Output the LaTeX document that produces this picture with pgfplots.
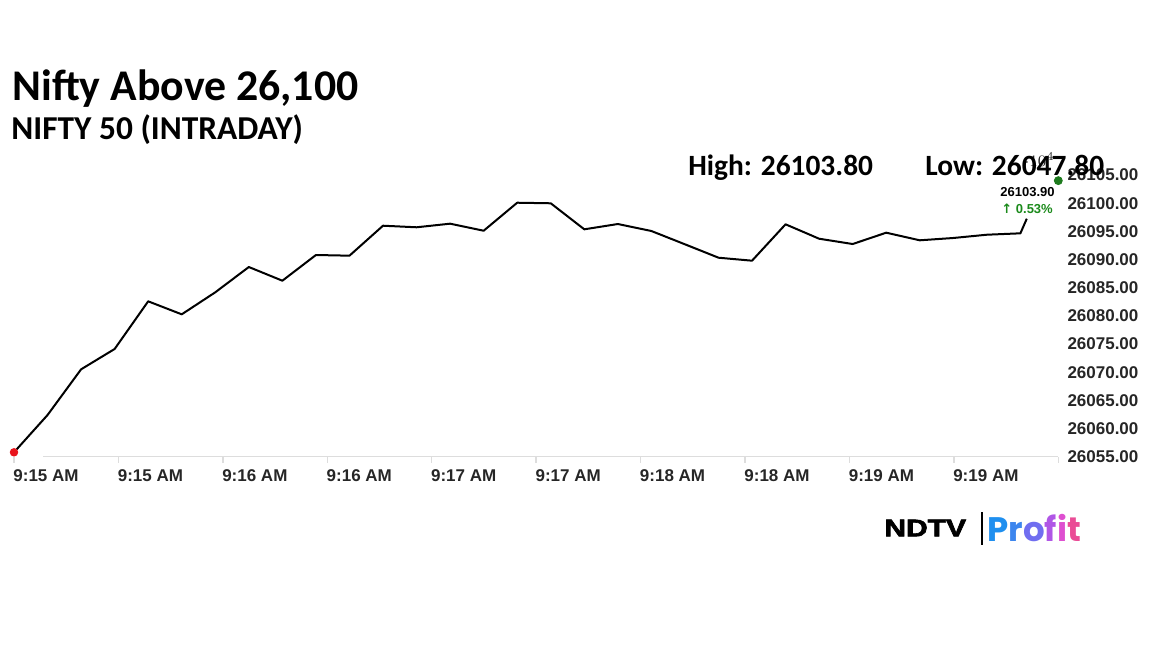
\documentclass[border=0pt]{standalone}
\usepackage{pgfplots}
\pgfplotsset{compat=1.18}
\usepackage{fontspec}
\usepackage{graphicx}
\setmainfont{Carlito}
\newfontfamily\arial{Liberation Sans}
\newfontfamily\ndtvfont[BoldFeatures={FakeBold=2.5}]{Liberation Sans}
\newfontfamily\dejavu{DejaVu Sans}
\newfontfamily\poppins{Poppins}
\definecolor{reddot}{HTML}{E8141C}
\definecolor{greendot}{HTML}{1E7B1E}
\definecolor{uptext}{HTML}{1B8A1B}
\definecolor{axisgray}{HTML}{DDDDDD}
\definecolor{pA}{HTML}{1F8FEF}
\definecolor{pB}{HTML}{3D86EE}
\definecolor{pC}{HTML}{706EF0}
\definecolor{pD}{HTML}{B056E6}
\definecolor{pE}{HTML}{DE4FD0}
\definecolor{pF}{HTML}{EA4C96}
\begin{document}
\begin{tikzpicture}
\path[use as bounding box] (0,0) rectangle (576pt,-324pt);
\begin{axis}[
  at={(7pt,-228.35pt)}, anchor=south west,
  scale only axis, width=522.15pt, height=140.85pt,
  xmin=0, xmax=31.13, ymin=26055, ymax=26105,
  clip=false,
  axis x line*=bottom, axis y line*=right,
  x axis line style={draw=none}, y axis line style={draw=none},
  tick align=outside, major tick length=3pt,
  xtick style={draw=axisgray, line width=0.7pt},
  ytick style={draw=none},
  xtick={0,3.113,6.226,9.339,12.452,15.565,18.678,21.791,24.904,28.017,31.13},
  xticklabels={9:15 AM,9:15 AM,9:16 AM,9:16 AM,9:17 AM,9:17 AM,9:18 AM,9:18 AM,9:19 AM,9:19 AM,{}},
  ytick={26055,26060,26065,26070,26075,26080,26085,26090,26095,26100,26105},
  yticklabels={26055.00,26060.00,26065.00,26070.00,26075.00,26080.00,26085.00,26090.00,26095.00,26100.00,26105.00},
  tick label style={font=\arial\bfseries\fontsize{8.5}{10}\selectfont, text=black!85},
  xticklabel style={anchor=base west, inner sep=0pt, yshift=-9.4pt, xshift=-0.5pt},
  yticklabel style={anchor=west, inner sep=0pt, xshift=1.4pt},
]
\draw[axisgray, line width=0.7pt] (axis cs:0.865,26055) -- (axis cs:31.13,26055);
\addplot[black, line width=1pt, line join=round] coordinates {
(0,26055.78) (1,26062.40) (2,26070.51) (3,26074.12) (4,26082.58)
(5,26080.27) (6,26084.18) (7,26088.67) (8,26086.24) (9,26090.80)
(10,26090.68) (11,26096.00) (12,26095.72) (13,26096.36) (14,26095.11)
(15,26100.08) (16,26099.98) (17,26095.36) (18,26096.30) (19,26095.06)
(20,26092.70) (21,26090.32) (22,26089.79) (23,26096.25) (24,26093.69)
(25,26092.75) (26,26094.76) (27,26093.41) (28,26093.82) (29,26094.40)
(30,26094.65) (30.19,26097.24)
};
\addplot[only marks, mark=*, mark size=1.9pt, color=reddot] coordinates {(0,26055.78)};
\addplot[only marks, mark=*, mark size=2pt, color=greendot] coordinates {(31.13,26104)};
\end{axis}
\begin{scope}[x=0.5pt,y=-0.5pt]
\node[anchor=base west, inner sep=0pt, font=\bfseries\fontsize{21.9}{26}\selectfont] at (12,100) {Nifty Above 26,100};
\node[anchor=base west, inner sep=0pt, font=\bfseries\fontsize{16.7}{20}\selectfont] at (11,139) {NIFTY 50 (INTRADAY)};
\node[anchor=base west, inner sep=0pt, font=\bfseries\fontsize{14.7}{18}\selectfont] at (688,175) {High: 26103.80};
\node[anchor=base west, inner sep=0pt, font=\bfseries\fontsize{14.7}{18}\selectfont] at (925,175) {Low: 26047.80};
\node[anchor=base east, inner sep=0pt, font=\arial\bfseries\fontsize{6.5}{8}\selectfont] at (1055,196) {26103.90};
\node[anchor=base west, inner sep=0pt, text=uptext, font=\arial\bfseries\fontsize{6.5}{8}\selectfont] at (1001,213) {{\dejavu\bfseries ↑} 0.53\%};
% logo
\node[anchor=west, inner sep=0pt, font=\ndtvfont\bfseries\fontsize{12}{14}\selectfont] at (884,528) {\scalebox{1.25}[1]{NDTV}};
\draw[black, line width=1pt] (981.7,512) -- (981.7,545);
\node[anchor=west, inner sep=0pt, font=\poppins\bfseries\fontsize{17}{20}\selectfont] at (987,528) {\textcolor{pA}{P}\textcolor{pB}{r}\textcolor{pC}{o}\textcolor{pD}{f}\textcolor{pE}{i}\textcolor{pF}{t}};
\end{scope}
\end{tikzpicture}
\end{document}
